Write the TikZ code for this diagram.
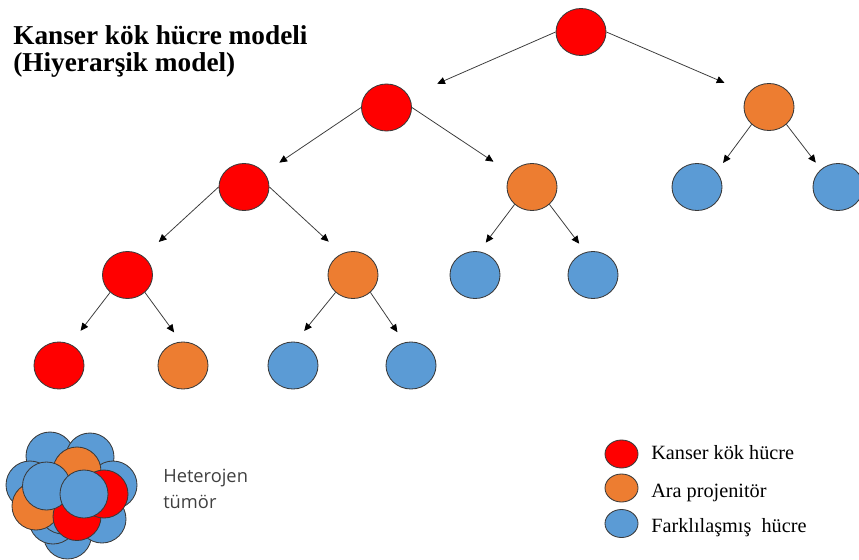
\documentclass[tikz,border=0pt]{standalone}
\usepackage{fontspec}
\setmainfont{Liberation Serif}
\newfontfamily\tumorfont{Open Sans}
\usetikzlibrary{shapes.geometric,arrows.meta}

\definecolor{kokred}{HTML}{FF0000}
\definecolor{araorange}{HTML}{ED7D31}
\definecolor{farkblue}{HTML}{5B9BD5}
\definecolor{edgegray}{HTML}{3A3A3A}
\definecolor{textgray}{HTML}{404040}

\tikzset{
  cell/.style={ellipse, draw=edgegray, line width=0.6pt, inner sep=0pt,
    minimum width=1.25cm, minimum height=1.175cm},
  legcell/.style={cell, minimum width=0.825cm, minimum height=0.7cm},
  ball/.style={draw=edgegray, line width=0.6pt},
  arr/.style={draw=edgegray, line width=0.55pt,
    -{Triangle[length=5.5pt,width=5pt,color=black]}},
  legtext/.style={anchor=base west, inner sep=0pt, font=\fontsize{14.4}{17}\selectfont}
}

\begin{document}
\begin{tikzpicture}[x=0.025cm, y=-0.025cm]
    \useasboundingbox (0,0) rectangle (859,559);

    % title (base = last line)
    \node[anchor=base west, inner sep=0pt, align=left,
      font=\bfseries\fontsize{19.4}{19.5}\selectfont] (title) at (13,71.7)
      {Kanser kök hücre modeli\\(Hiyerarşik model)};

    % hierarchy
    \node[cell, fill=kokred] (top) at (581,32) {};
    \node[cell, fill=kokred] (r1) at (386.5,107.5) {};
    \node[cell, fill=araorange] (o1) at (769,107) {};
    \node[cell, fill=kokred] (r2) at (244,187) {};
    \node[cell, fill=araorange] (o2) at (532,187) {};
    \node[cell, fill=farkblue] (b2a) at (697,187) {};
    \node[cell, fill=farkblue] (b2b) at (838,187) {};
    \node[cell, fill=kokred] (r3) at (127.5,275) {};
    \node[cell, fill=araorange] (o3) at (353,275) {};
    \node[cell, fill=farkblue] (b3a) at (475,275) {};
    \node[cell, fill=farkblue] (b3b) at (593,275) {};
    \node[cell, fill=kokred] (r4) at (59,365.5) {};
    \node[cell, fill=araorange] (o4) at (183,365.5) {};
    \node[cell, fill=farkblue] (b4a) at (293,365.5) {};
    \node[cell, fill=farkblue] (b4b) at (411,365.5) {};

    \draw[arr, shorten >=22pt] (top.west) -- (r1.27);
    \draw[arr, shorten >=18.5pt] (top.east) -- (o1.146);
    \draw[arr, shorten >=12.8pt] (r1.west) -- (r2.35);
    \draw[arr, shorten >=15pt] (r1.east) -- (o2.147);
    \draw[arr, shorten >=15pt] (r2.west) -- (r3.50);
    \draw[arr, shorten >=12.5pt] (r2.east) -- (o3.118);
    \draw[arr, shorten >=7.8pt] (o2.225) -- (b3a.80);
    \draw[arr, shorten >=7.5pt] (o2.315) -- (b3b.108);
    \draw[arr, shorten >=7.8pt] (o1.225) -- (b2a.38);
    \draw[arr, shorten >=6pt] (o1.315) -- (b2b.134);
    \draw[arr, shorten >=11.9pt] (r3.225) -- (r4.62);
    \draw[arr, shorten >=8.2pt] (r3.315) -- (o4.95);
    \draw[arr, shorten >=9.8pt] (o3.225) -- (b4a.84);
    \draw[arr, shorten >=8.8pt] (o3.315) -- (b4b.106);

    % heterogeneous tumour
    \filldraw[ball, fill=farkblue] (50,456) circle[radius=24];
    \filldraw[ball, fill=farkblue] (90,457) circle[radius=24];
    \filldraw[ball, fill=farkblue] (30,485) circle[radius=24];
    \filldraw[ball, fill=farkblue] (113,485) circle[radius=24];
    \filldraw[ball, fill=farkblue] (67.5,535) circle[radius=24];
    \filldraw[ball, fill=farkblue] (53,520) circle[radius=24];
    \filldraw[ball, fill=farkblue] (102,519) circle[radius=24];
    \filldraw[ball, fill=farkblue] (63,510) circle[radius=24];
    \filldraw[ball, fill=araorange] (77,471) circle[radius=24];
    \filldraw[ball, fill=araorange] (36,506) circle[radius=24];
    \filldraw[ball, fill=kokred] (77,516.5) circle[radius=24];
    \filldraw[ball, fill=kokred] (104,494) circle[radius=24];
    \filldraw[ball, fill=farkblue] (46.5,486) circle[radius=24];
    \filldraw[ball, fill=farkblue] (84,494) circle[radius=24];

    \node[anchor=base west, inner sep=0pt, align=left, text=textgray,
      font=\tumorfont\fontsize{13}{17.8}\selectfont] (tumor) at (163,508)
      {Heterojen\\tümör};

    % legend
    \node[legcell, fill=kokred] (leg1) at (621.5,454) {};
    \node[legcell, fill=araorange] (leg2) at (621.5,488) {};
    \node[legcell, fill=farkblue] (leg3) at (621.5,523.5) {};
    \node[legtext] (legt1) at (651,459.3) {Kanser kök hücre};
    \node[legtext] (legt2) at (651,497) {Ara projenitör};
    \node[legtext] (legt3) at (651,532.7) {Farklılaşmış\ \ hücre};
\end{tikzpicture}
\end{document}
